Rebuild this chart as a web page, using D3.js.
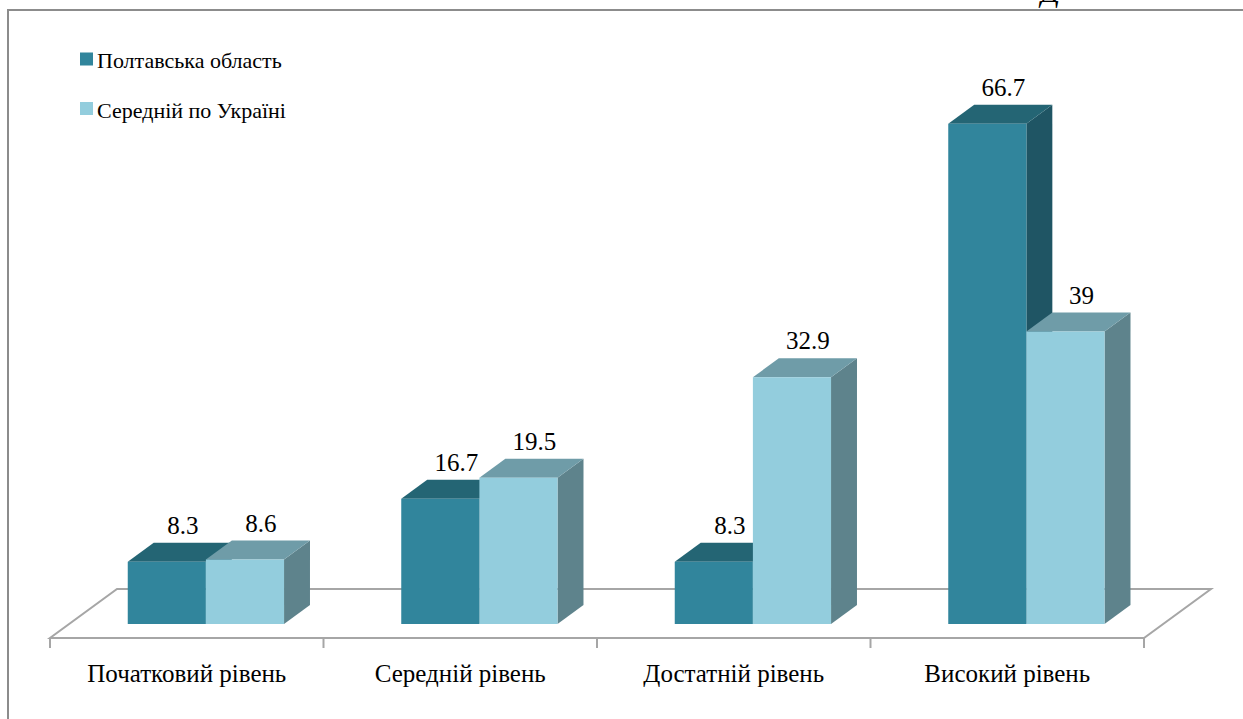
<!DOCTYPE html>
<html>
<head>
<meta charset="utf-8">
<script src="https://cdn.jsdelivr.net/npm/d3@7"></script>
<style>
  html, body { margin: 0; padding: 0; background: #fff; overflow: hidden; }
  svg { display: block; }
</style>
</head>
<body>
<svg id="chart" width="1243" height="719"></svg>
<script>
const categories = ["Початковий рівень", "Середній рівень", "Достатній рівень", "Високий рівень"];
const seriesNames = ["Полтавська область", "Середній по Україні"];
const poltava = [8.3, 16.7, 8.3, 66.7];
const ukraine = [8.6, 19.5, 32.9, 39];
const valueLabels = [["8.3", "16.7", "8.3", "66.7"], ["8.6", "19.5", "32.9", "39"]];

const FONT = "'Liberation Serif', 'Times New Roman', Times, 'DejaVu Serif', serif";
const colors = [
  { front: "#31859c", top: "#246574", side: "#1f5564" },
  { front: "#93cddd", top: "#6f9ca8", side: "#5e838c" }
];

const svg = d3.select("#chart");

// outer frame (extends beyond right/bottom edge)
svg.append("rect").attr("x", 8).attr("y", 10).attr("width", 1300).attr("height", 800)
  .attr("fill", "none").attr("stroke", "#8c8c8c").attr("stroke-width", 2);

// cut-off italic caption at the top
svg.append("text").attr("x", 1041).attr("y", 2).attr("font-size", 30).attr("font-style", "italic")
  .attr("font-family", FONT).text("Д");

// 3D projection settings
const floorY = 638, depthDX = 67, depthDY = 49;
const zFront = 2 / 7, zBack = 0.673;
const proj = (x, h, z) => [x + z * depthDX, floorY - h - z * depthDY];

const x = d3.scaleBand().domain(categories).range([50, 1144]).paddingInner(0).paddingOuter(0);
const xs = d3.scaleBand().domain(seriesNames).range([0, x.bandwidth()]).paddingInner(0).paddingOuter(0.75);
const y = d3.scaleLinear().domain([0, 70]).range([0, 525]);

// floor
const x0 = x.range()[0], x1 = x.range()[1];
const floorPts = [proj(x0, 0, 0), proj(x1, 0, 0), proj(x1, 0, 1), proj(x0, 0, 1)];
svg.append("polygon").attr("points", floorPts.map(p => p.join(",")).join(" "))
  .attr("fill", "#fff").attr("stroke", "#a6a6a6").attr("stroke-width", 2);

// ticks
const tickXs = categories.map(c => x(c)).concat([x1]);
svg.selectAll("line.tick").data(tickXs).enter().append("line")
  .attr("x1", d => d).attr("x2", d => d).attr("y1", floorY).attr("y2", floorY + 10)
  .attr("stroke", "#a6a6a6").attr("stroke-width", 2);

// category labels
svg.selectAll("text.cat").data(categories).enter().append("text")
  .attr("x", d => x(d) + x.bandwidth() / 2).attr("y", 682)
  .attr("text-anchor", "middle").attr("font-size", 25).attr("font-family", FONT).text(d => d);

// bars
const seriesData = [poltava, ukraine];
const bars = [];
categories.forEach((c, i) => {
  seriesData.forEach((vals, s) => {
    bars.push({ c, i, s, v: vals[i], label: valueLabels[s][i] });
  });
});

const pts = a => a.map(p => p.join(",")).join(" ");
const g = svg.append("g");
bars.forEach(b => {
  const bx0 = x(b.c) + xs(seriesNames[b.s]);
  const bx1 = bx0 + xs.bandwidth();
  const h = y(b.v);
  const col = colors[b.s];
  const fBL = proj(bx0, 0, zFront), fBR = proj(bx1, 0, zFront), fTR = proj(bx1, h, zFront), fTL = proj(bx0, h, zFront);
  const bTL = proj(bx0, h, zBack), bTR = proj(bx1, h, zBack), bBR = proj(bx1, 0, zBack);
  g.append("polygon").attr("points", pts([fBR, fTR, bTR, bBR])).attr("fill", col.side);
  g.append("polygon").attr("points", pts([fTL, fTR, bTR, bTL])).attr("fill", col.top);
  g.append("polygon").attr("points", pts([fBL, fBR, fTR, fTL])).attr("fill", col.front);
  const cx = (fTL[0] + bTR[0]) / 2 + 3;
  g.append("text").attr("x", cx).attr("y", bTL[1] - 9).attr("text-anchor", "middle")
    .attr("font-size", 25).attr("font-family", FONT).text(b.label);
});

// legend
const legend = svg.append("g");
seriesNames.forEach((name, s) => {
  const ly = 59 + s * 49.5;
  legend.append("rect").attr("x", 80).attr("y", ly - 6.5).attr("width", 13).attr("height", 13)
    .attr("fill", colors[s].front);
  legend.append("text").attr("x", 97).attr("y", ly + 9).attr("font-size", 22)
    .attr("font-family", FONT).text(name);
});
</script>
</body>
</html>
